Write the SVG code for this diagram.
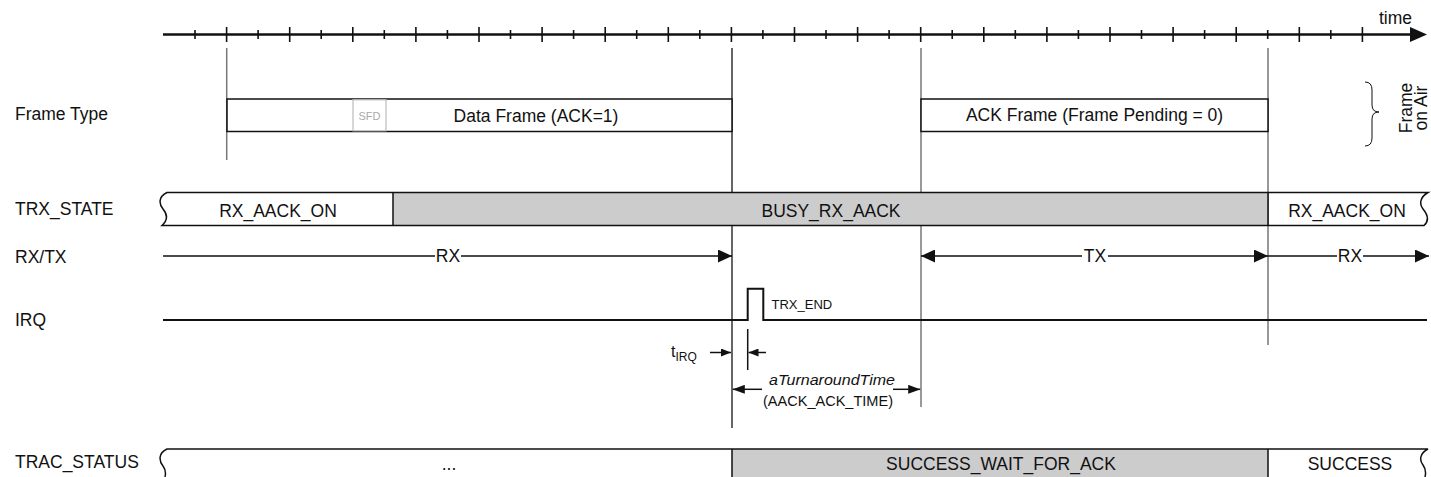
<svg xmlns="http://www.w3.org/2000/svg" width="1431" height="477" viewBox="0 0 1431 477">
<style>
.t{font-family:"Liberation Sans",Arial,sans-serif;font-size:17.5px;fill:#111}
.c{text-anchor:middle}
.ln{stroke:#111;stroke-width:1.5;fill:none}
.vl{stroke:#777;stroke-width:1.5}
.tk{stroke:#111;stroke-width:1.6}
.box{fill:#fff;stroke:#111;stroke-width:1.5}
.grey{fill:#cccccc}
</style>
<defs>
<marker id="ah" markerUnits="userSpaceOnUse" markerWidth="14" markerHeight="13" refX="14" refY="6.5" orient="auto-start-reverse"><path d="M0,0 L14,6.5 L0,13 z" fill="#111"/></marker>
<marker id="am" markerUnits="userSpaceOnUse" markerWidth="12" markerHeight="9" refX="12" refY="4.5" orient="auto-start-reverse"><path d="M0,0 L12,4.5 L0,9 z" fill="#111"/></marker>
<marker id="as" markerUnits="userSpaceOnUse" markerWidth="10" markerHeight="8" refX="10" refY="4" orient="auto-start-reverse"><path d="M0,0 L10,4 L0,8 z" fill="#111"/></marker>
</defs>
<rect width="1431" height="477" fill="#fff"/>

<g id="time-axis">
<line x1="163" y1="34.5" x2="1412" y2="34.5" stroke="#111" stroke-width="2.5"/>
<path d="M1410,27 L1427,34.5 L1410,42 z" fill="#111"/>
<g class="tk">
<line x1="195" y1="30" x2="195" y2="39"/><line x1="226.6" y1="27" x2="226.6" y2="42"/>
<line x1="258.1" y1="30" x2="258.1" y2="39"/><line x1="289.7" y1="27" x2="289.7" y2="42"/>
<line x1="321.2" y1="30" x2="321.2" y2="39"/><line x1="352.8" y1="27" x2="352.8" y2="42"/>
<line x1="384.3" y1="30" x2="384.3" y2="39"/><line x1="415.9" y1="27" x2="415.9" y2="42"/>
<line x1="447.4" y1="30" x2="447.4" y2="39"/><line x1="479" y1="27" x2="479" y2="42"/>
<line x1="510.5" y1="30" x2="510.5" y2="39"/><line x1="542.1" y1="27" x2="542.1" y2="42"/>
<line x1="573.6" y1="30" x2="573.6" y2="39"/><line x1="605.2" y1="27" x2="605.2" y2="42"/>
<line x1="636.7" y1="30" x2="636.7" y2="39"/><line x1="668.3" y1="27" x2="668.3" y2="42"/>
<line x1="699.8" y1="30" x2="699.8" y2="39"/><line x1="731.4" y1="27" x2="731.4" y2="42"/>
<line x1="762.9" y1="30" x2="762.9" y2="39"/><line x1="794.5" y1="27" x2="794.5" y2="42"/>
<line x1="826" y1="30" x2="826" y2="39"/><line x1="857.6" y1="27" x2="857.6" y2="42"/>
<line x1="889.1" y1="30" x2="889.1" y2="39"/><line x1="920.7" y1="27" x2="920.7" y2="42"/>
<line x1="952.2" y1="30" x2="952.2" y2="39"/><line x1="983.8" y1="27" x2="983.8" y2="42"/>
<line x1="1015.3" y1="30" x2="1015.3" y2="39"/><line x1="1046.9" y1="27" x2="1046.9" y2="42"/>
<line x1="1078.4" y1="30" x2="1078.4" y2="39"/><line x1="1110" y1="27" x2="1110" y2="42"/>
<line x1="1141.5" y1="30" x2="1141.5" y2="39"/><line x1="1173.1" y1="27" x2="1173.1" y2="42"/>
<line x1="1204.6" y1="30" x2="1204.6" y2="39"/><line x1="1236.2" y1="27" x2="1236.2" y2="42"/>
<line x1="1267.7" y1="30" x2="1267.7" y2="39"/><line x1="1299.3" y1="27" x2="1299.3" y2="42"/>
<line x1="1330.8" y1="30" x2="1330.8" y2="39"/><line x1="1362.4" y1="27" x2="1362.4" y2="42"/>
</g>
<text class="t" x="1412" y="24" text-anchor="end">time</text>
</g>

<g id="row-labels">
<text class="t" x="15" y="119.5">Frame Type</text>
<text class="t" x="15" y="214.5">TRX_STATE</text>
<text class="t" x="15" y="263">RX/TX</text>
<text class="t" x="15" y="326">IRQ</text>
<text class="t" x="15" y="468">TRAC_STATUS</text>
</g>

<g id="connectors">
<line class="vl" x1="226.7" y1="48" x2="226.7" y2="160"/>
<line x1="732" y1="48" x2="732" y2="428" stroke="#333" stroke-width="1.5"/>
<line class="vl" x1="921" y1="48" x2="921" y2="407"/>
<line class="vl" x1="1268" y1="48" x2="1268" y2="345"/>
</g>

<g id="data-frame">
<rect class="box" x="227" y="99" width="505" height="32.5"/>
<rect x="353" y="99.8" width="33" height="31" fill="#fff" stroke="#bbb" stroke-width="1.2"/>
<text x="369.5" y="120" text-anchor="middle" font-family="Liberation Sans, Arial, sans-serif" font-size="11" fill="#aaa">SFD</text>
<text class="t c" x="536" y="122">Data Frame (ACK=1)</text>
</g>

<g id="ack-frame">
<rect class="box" x="921" y="99" width="347" height="32.5"/>
<text class="t c" x="1094.5" y="121">ACK Frame (Frame Pending = 0)</text>
</g>

<g id="frame-on-air">
<path d="M1365,82 Q1372,82 1372,90 L1372,105 Q1372,112 1379,112 Q1372,112 1372,119 L1372,138 Q1372,146 1365,146" fill="none" stroke="#111" stroke-width="1"/>
<text class="t c" transform="translate(1412,108) rotate(-90)">Frame</text>
<text class="t c" transform="translate(1427,108) rotate(-90)">on Air</text>
</g>

<g id="trx-state">
<rect class="grey" x="393" y="192.5" width="875" height="33"/>
<path class="ln" d="M167,192.5 L1428,192.5 C1420,197 1419,204 1423,209 C1428,215 1429,221 1424,225.5 L162,225.5 C167,221 168,215 163,209 C159,204 158,197 167,192.5 z"/>
<line class="ln" x1="393" y1="192.5" x2="393" y2="225.5"/>
<line class="ln" x1="1268" y1="192.5" x2="1268" y2="225.5"/>
<text class="t c" x="278" y="217">RX_AACK_ON</text>
<text class="t c" x="831" y="217">BUSY_RX_AACK</text>
<text class="t c" x="1347" y="217">RX_AACK_ON</text>
</g>

<g id="rx-tx">
<line class="ln" x1="163" y1="256" x2="732" y2="256" marker-end="url(#ah)"/>
<line class="ln" x1="921" y1="256" x2="1268" y2="256" marker-start="url(#ah)" marker-end="url(#ah)"/>
<line class="ln" x1="1268" y1="256" x2="1429" y2="256" marker-end="url(#ah)"/>
<rect x="435" y="248" width="26" height="16" fill="#fff"/>
<text class="t c" x="448" y="262">RX</text>
<rect x="1082" y="248" width="26" height="16" fill="#fff"/>
<text class="t c" x="1095" y="262">TX</text>
<rect x="1337" y="248" width="26" height="16" fill="#fff"/>
<text class="t c" x="1350" y="262">RX</text>
</g>

<g id="irq">
<path d="M163,320 L747.7,320 L747.7,288.7 L763.3,288.7 L763.3,320 L1427,320" fill="none" stroke="#111" stroke-width="2"/>
<text x="771.5" y="308.5" font-family="Liberation Sans, Arial, sans-serif" font-size="13" fill="#111">TRX_END</text>
<line x1="747.7" y1="329" x2="747.7" y2="370" stroke="#111" stroke-width="1.5"/>
<line class="ln" x1="710" y1="352.5" x2="731" y2="352.5" marker-end="url(#as)"/>
<line class="ln" x1="766" y1="352.5" x2="748.5" y2="352.5" marker-end="url(#as)"/>
<text font-family="Liberation Sans, Arial, sans-serif" fill="#111"><tspan x="671" y="357" font-size="16">t</tspan><tspan y="361" font-size="12">IRQ</tspan></text>
</g>

<g id="turnaround">
<line class="ln" x1="762" y1="389.3" x2="732.8" y2="389.3" marker-end="url(#am)"/>
<line class="ln" x1="893" y1="389.3" x2="920.2" y2="389.3" marker-end="url(#am)"/>
<text x="832" y="384.5" text-anchor="middle" font-family="Liberation Sans, Arial, sans-serif" font-size="15.5" font-style="italic" fill="#111" textLength="126" lengthAdjust="spacingAndGlyphs">aTurnaroundTime</text>
<text x="828" y="406" text-anchor="middle" font-family="Liberation Sans, Arial, sans-serif" font-size="15" fill="#111" textLength="130" lengthAdjust="spacingAndGlyphs">(AACK_ACK_TIME)</text>
</g>

<g id="trac-status">
<rect class="grey" x="732" y="449" width="536" height="28"/>
<path class="ln" d="M165,477 C166,473 166,470 163,466 C159,461 158,453 167,449 L1428,449 C1420,453 1419,460 1423,465 C1426,469 1426,473 1425,477"/>
<line class="ln" x1="732" y1="449" x2="732" y2="477"/>
<line class="ln" x1="1268" y1="449" x2="1268" y2="477"/>
<text class="t c" x="449" y="470">...</text>
<text class="t c" x="1001" y="470">SUCCESS_WAIT_FOR_ACK</text>
<text class="t c" x="1350" y="470">SUCCESS</text>
</g>
</svg>
